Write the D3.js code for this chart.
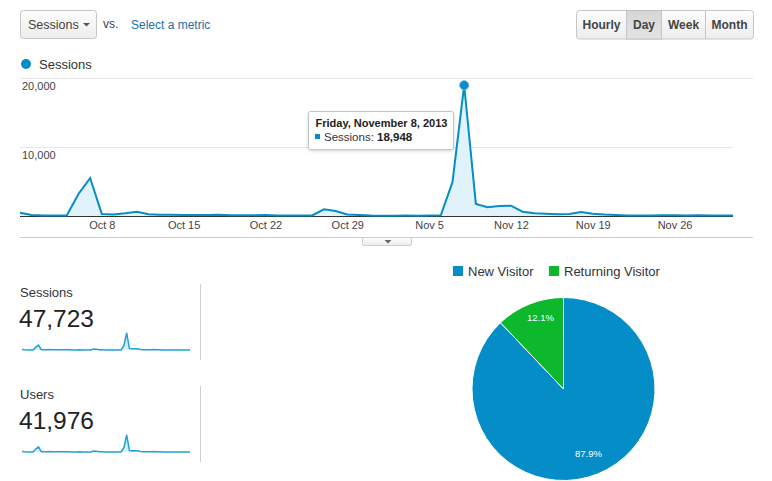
<!DOCTYPE html>
<html><head><meta charset="utf-8">
<script src="https://cdn.jsdelivr.net/npm/d3@7"></script>
<style>
html,body{margin:0;padding:0;background:#fff;}
svg{display:block;font-family:"Liberation Sans",Arial,Helvetica,sans-serif;}
</style></head>
<body>
<svg id="c" width="772" height="481"></svg>
<script>
// ---------- DATA ----------
const startDate = "2013-10-01";
const sessions = [480,150,60,60,70,3200,5500,300,220,400,620,260,180,170,160,150,150,190,110,100,100,
  150,90,80,80,80,970,720,210,150,60,
  50,50,60,50,60,90,4900,18948,1750,1260,1450,1490,620,390,340,250,300,580,330,200,130,80,80,80,100,100,80,100,80,60,
  60];
const users = [430,130,50,50,60,2850,4900,260,190,350,540,230,160,150,140,130,130,170,100,90,90,
  130,80,70,70,70,850,630,180,130,50,
  45,45,50,45,50,80,4300,16600,1530,1100,1270,1300,540,340,300,220,260,510,290,175,115,70,70,70,90,90,70,90,70,50,
  50];
const xTickLabels = ["Oct 8","Oct 15","Oct 22","Oct 29","Nov 5","Nov 12","Nov 19","Nov 26"];
const yTicks = [10000, 20000];
const metricNames = ["Sessions","Users"];
const metricTotals = ["47,723","41,976"];
const buttons = ["Hourly","Day","Week","Month"];
const pieLabels = ["New Visitor","Returning Visitor"];
const pieValues = [87.9, 12.1];
const pieColors = ["#058dc7","#0db82c"];
const tooltipTitle = "Friday, November 8, 2013";
const tooltipIndex = 38;

// ---------- SETUP ----------
const svg = d3.select("#c");
const parse = d3.timeParse("%Y-%m-%d");
const t0 = parse(startDate);
const dates = sessions.map((d,i)=>d3.timeDay.offset(t0,i));
const fmtTick = d3.timeFormat("%b %-d");
const blue = "#058dc7";

const defs = svg.append("defs");
const g1 = defs.append("linearGradient").attr("id","btn").attr("x1",0).attr("y1",0).attr("x2",0).attr("y2",1);
g1.append("stop").attr("offset","0%").attr("stop-color","#fdfdfd");
g1.append("stop").attr("offset","100%").attr("stop-color","#ededed");
const g2 = defs.append("linearGradient").attr("id","btnOn").attr("x1",0).attr("y1",0).attr("x2",0).attr("y2",1);
g2.append("stop").attr("offset","0%").attr("stop-color","#d6d6d6");
g2.append("stop").attr("offset","100%").attr("stop-color","#e3e3e3");
const sh = defs.append("filter").attr("id","shadow").attr("x","-10%").attr("y","-20%").attr("width","130%").attr("height","160%");
sh.append("feDropShadow").attr("dx",0).attr("dy",1).attr("stdDeviation",1.5).attr("flood-color","#000").attr("flood-opacity",0.18);

// ---------- TOP CONTROLS ----------
svg.append("rect").attr("x",20.5).attr("y",10.5).attr("width",76).attr("height",28).attr("rx",3)
  .attr("fill","url(#btn)").attr("stroke","#c6c6c6");
svg.append("text").attr("x",28).attr("y",29).attr("font-size",12.5).attr("fill","#444").text("Sessions");
svg.append("path").attr("d","M83,23L90,23L86.5,26.5Z").attr("fill","#555");
svg.append("text").attr("x",103).attr("y",27.5).attr("font-size",12).attr("fill","#444").text("vs.");
svg.append("text").attr("x",131).attr("y",29).attr("font-size",12).attr("fill","#1a6fa8").text("Select a metric");

const bx = [576.5, 626.5, 661.5, 705.5, 753.5];
svg.append("rect").attr("x",bx[0]).attr("y",10.5).attr("width",bx[4]-bx[0]).attr("height",28.5).attr("rx",3)
  .attr("fill","url(#btn)").attr("stroke","#c6c6c6");
svg.append("rect").attr("x",bx[1]).attr("y",10.5).attr("width",bx[2]-bx[1]).attr("height",28.5)
  .attr("fill","url(#btnOn)").attr("stroke","#c0c0c0");
buttons.forEach((b,i)=>{
  if(i>0) svg.append("line").attr("x1",bx[i]).attr("x2",bx[i]).attr("y1",10.5).attr("y2",39).attr("stroke","#c6c6c6");
  svg.append("text").attr("x",(bx[i]+bx[i+1])/2).attr("y",29).attr("text-anchor","middle")
    .attr("font-size",12).attr("font-weight","bold").attr("fill","#444").text(b);
});

// legend
svg.append("circle").attr("cx",26).attr("cy",64).attr("r",5).attr("fill",blue);
svg.append("text").attr("x",39).attr("y",69).attr("font-size",13).attr("fill","#333").text("Sessions");

// ---------- MAIN CHART ----------
const x = d3.scaleTime().domain([dates[0], dates[dates.length-1]]).range([20, 733]);
const y = d3.scaleLinear().domain([0, 20000]).range([216, 78]);

// grid
yTicks.forEach(v=>{
  svg.append("line").attr("x1",20).attr("x2",v===20000?753:733).attr("y1",Math.round(y(v))+0.5).attr("y2",Math.round(y(v))+0.5)
    .attr("stroke","#e6e6e6");
  svg.append("text").attr("x",22).attr("y",y(v)+12).attr("font-size",11).attr("fill","#444").text(d3.format(",")(v));
});
// baseline
svg.append("line").attr("x1",20).attr("x2",733).attr("y1",216.5).attr("y2",216.5).attr("stroke","#333");

const area = d3.area().x((d,i)=>x(dates[i])).y0(y(0)).y1(d=>y(d));
const line = d3.line().x((d,i)=>x(dates[i])).y(d=>y(d));
svg.append("path").datum(sessions).attr("d",area).attr("fill","#e0f3fa");
svg.append("path").datum(sessions).attr("d",line).attr("fill","none").attr("stroke",blue)
  .attr("stroke-width",2).attr("stroke-linejoin","miter");

// x axis labels
const tickDates = xTickLabels.map(l=>dates.find(d=>fmtTick(d)===l));
const xAxis = d3.axisBottom(x).tickValues(tickDates).tickFormat(fmtTick).tickSize(0).tickPadding(0);
const ax = svg.append("g").attr("transform","translate(0,219)").call(xAxis);
ax.select(".domain").remove();
ax.selectAll("text").attr("font-size",11).attr("fill","#444").attr("font-family","Liberation Sans,Arial,sans-serif").attr("dy","0.9em");

// bottom border + tab
svg.append("line").attr("x1",20).attr("x2",753).attr("y1",237.5).attr("y2",237.5).attr("stroke","#cfcfcf");
svg.append("rect").attr("x",362.5).attr("y",237.5).attr("width",49).attr("height",8).attr("rx",1.5)
  .attr("fill","url(#btn)").attr("stroke","#cfcfcf");
svg.append("path").attr("d","M384.5,240L391.5,240L388,243.5Z").attr("fill","#666");

// peak point
const px = x(dates[tooltipIndex]), py = y(sessions[tooltipIndex]);
svg.append("circle").attr("cx",px).attr("cy",py).attr("r",4.5).attr("fill",blue).attr("stroke","#5db3dd").attr("stroke-width",1);

// tooltip
const tt = svg.append("g");
tt.append("rect").attr("x",308.5).attr("y",111.5).attr("width",145).attr("height",38).attr("rx",2)
  .attr("fill","#fff").attr("stroke","#c4c4c4").attr("filter","url(#shadow)");
tt.append("text").attr("x",315.5).attr("y",127).attr("font-size",11).attr("font-weight","bold").attr("fill","#222").text(tooltipTitle);
tt.append("rect").attr("x",315).attr("y",134).attr("width",5).attr("height",5).attr("fill",blue);
const t2 = tt.append("text").attr("x",324).attr("y",141).attr("font-size",11.5).attr("fill","#333");
t2.append("tspan").text("Sessions: ");
t2.append("tspan").attr("font-weight","bold").attr("fill","#222").text(d3.format(",")(sessions[tooltipIndex]));

// ---------- SPARKLINES ----------
const series = [sessions, users];
const tops = [270, 372];
series.forEach((s,k)=>{
  const top = tops[k];
  svg.append("text").attr("x",20).attr("y",top+27).attr("font-size",13).attr("fill","#333").text(metricNames[k]);
  svg.append("text").attr("x",19).attr("y",top+57).attr("font-size",24.5).attr("fill","#222").text(metricTotals[k]);
  const base = top + 80;
  const sx = d3.scaleTime().domain([dates[0], dates[dates.length-1]]).range([22, 190]);
  const sy = d3.scaleLinear().domain([0, d3.max(s)]).range([base, base-17]);
  svg.append("path").datum(s).attr("d",d3.area().x((d,i)=>sx(dates[i])).y0(base).y1(d=>sy(d))).attr("fill","#d5eef8");
  svg.append("path").datum(s).attr("d",d3.line().x((d,i)=>sx(dates[i])).y(d=>sy(d)))
    .attr("fill","none").attr("stroke","#1ea2d8").attr("stroke-width",1.5);
  svg.append("line").attr("x1",200.5).attr("x2",200.5).attr("y1",top+14).attr("y2",top+90).attr("stroke","#d0d0d0");
});

// ---------- PIE ----------
const legX = [453, 549];
pieLabels.forEach((l,i)=>{
  svg.append("rect").attr("x",legX[i]).attr("y",266).attr("width",10).attr("height",10).attr("fill",pieColors[i]);
  svg.append("text").attr("x",legX[i]+15).attr("y",276).attr("font-size",13).attr("fill","#333").text(l);
});
const pie = d3.pie().sort(null).value(d=>d)(pieValues);
const arc = d3.arc().innerRadius(0).outerRadius(91.5);
const pg = svg.append("g").attr("transform","translate(563.5,389)");
pg.selectAll("path").data(pie).join("path").attr("d",arc).attr("fill",(d,i)=>pieColors[i])
  .attr("stroke","#fff").attr("stroke-width",1);
const labPos = [[25,68],[-23,-68]];
pg.selectAll("text").data(pie).join("text")
  .attr("x",(d,i)=>labPos[i][0]).attr("y",(d,i)=>labPos[i][1])
  .attr("text-anchor","middle").attr("font-size",9.5).attr("fill","#fff")
  .text(d=>d.data.toFixed(1)+"%");
</script>
</body></html>
